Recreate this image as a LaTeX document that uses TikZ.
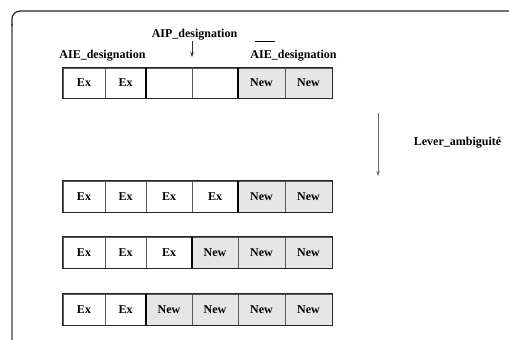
\documentclass[tikz,border=0pt]{standalone}
\usepackage{fontspec}
\setmainfont{Liberation Serif}
\usetikzlibrary{arrows.meta}
\definecolor{newfill}{HTML}{E6E6E6}
\tikzset{
  cell/.style={draw=black!65, line width=0.7bp, inner sep=0pt, font=\bfseries\fontsize{12bp}{14bp}\selectfont},
  outer/.style={draw=black!85, line width=1.1bp},
  thicksep/.style={draw=black, line width=2bp},
  lbl/.style={font=\bfseries\fontsize{12bp}{14bp}\selectfont, inner sep=0pt, anchor=base},
  pointer/.style={draw=black!80, line width=0.8bp, -{Stealth[length=5bp,width=3.5bp]}},
  frametop/.style={draw=black!85, line width=1.2bp, rounded corners=8bp},
  frameside/.style={draw=black!50, line width=1.6bp},
}
\begin{document}
\begin{tikzpicture}[x=1bp,y=-1bp]
\useasboundingbox (0,0) rectangle (509,339);
\clip (0,0) rectangle (509,339);
% frame
\draw[frameside] (12,24) -- (12,345);
\draw[frametop] (12,26) -- (12,11) -- (520,11);
% register rows
\foreach \r/\yt/\yb/\k in {1/68/98/5, 2/181/212/5, 3/237/268/4, 4/294/325/3}{
  \foreach \c/\xa/\xb in {1/63/105, 2/105/146, 3/146/192, 4/192/238, 5/238/285, 6/285/332}{
    \pgfmathsetmacro\w{\xb-\xa}
    \pgfmathsetmacro\h{\yb-\yt}
    \ifnum\c<\k \def\lab{Ex}\def\fc{white}\else \def\lab{New}\def\fc{newfill}\fi
    \ifnum\r=1 \ifnum\c>2 \ifnum\c<5 \def\lab{}\fi\fi\fi
    \node[cell, fill=\fc, minimum width=\w bp, minimum height=\h bp]
      (r\r-\c) at ({(\xa+\xb)/2},{(\yt+\yb)/2}) {\lab};
  }
  \draw[outer] (r\r-1.north west) rectangle (r\r-6.south east);
  \draw[thicksep] (r\r-\k.north west) -- (r\r-\k.south west);
}
\draw[thicksep] (r1-3.north west) -- (r1-3.south west);
% labels
\node[lbl] (aieL) at (102.5,58) {AIE\_designation};
\node[lbl] (aip) at (194.5,37) {AIP\_designation};
\node[lbl] (aieR) at (293.5,58) {AIE\_designation};
\node[lbl] (lever) at (457.5,145) {Lever\_ambiguité};
% overline above the right label
\draw[black, line width=1bp] (255,41) coordinate (barA) -- (275,41) coordinate (barB);
% pointers
\coordinate (aipS) at (192,41);
\coordinate (aipE) at (192,57);
\draw[pointer] (aipS) -- (aipE);
\coordinate (levS) at (378,113);
\coordinate (levE) at (378,176);
\draw[pointer, draw=black!60] (levS) -- (levE);
\end{tikzpicture}
\end{document}
